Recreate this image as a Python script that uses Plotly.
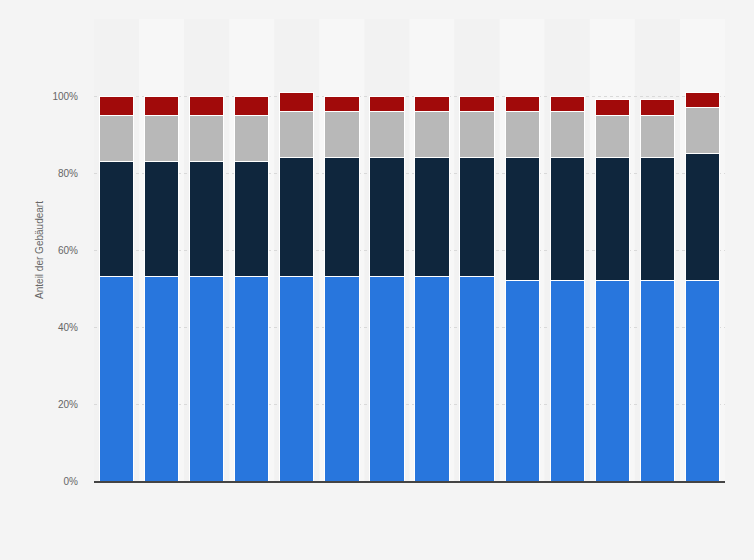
import plotly.graph_objects as go

categories = [str(y) for y in range(2006, 2020)]
blue = [53, 53, 53, 53, 53, 53, 53, 53, 53, 52, 52, 52, 52, 52]
navy = [30, 30, 30, 30, 31, 31, 31, 31, 31, 32, 32, 32, 32, 33]
gray = [12, 12, 12, 12, 12, 12, 12, 12, 12, 12, 12, 11, 11, 12]
red = [5, 5, 5, 5, 5, 4, 4, 4, 4, 4, 4, 4, 4, 4]

series = [
    ("Serie 1", blue, "#2876dd"),
    ("Serie 2", navy, "#0f263d"),
    ("Serie 3", gray, "#b8b8b8"),
    ("Serie 4", red, "#a10a0a"),
]

fig = go.Figure()
for name, vals, col in series:
    fig.add_trace(go.Bar(
        x=categories, y=vals, name=name,
        marker=dict(color=col, line=dict(color="#ffffff", width=1)),
        width=0.76,
    ))

shapes = []
for i in range(len(categories)):
    shapes.append(dict(
        type="rect", xref="x", yref="paper",
        x0=i - 0.5, x1=i + 0.5, y0=0, y1=1,
        fillcolor="#f7f7f7" if i % 2 == 1 else "#f2f2f2",
        line=dict(width=0), layer="below",
    ))

fig.update_layout(
    barmode="stack",
    width=754, height=560,
    paper_bgcolor="#f4f4f4", plot_bgcolor="#f4f4f4",
    margin=dict(l=94, r=29, t=19, b=79),
    showlegend=False,
    shapes=shapes,
    font=dict(family="Liberation Sans, Arial, sans-serif", size=10, color="#666666"),
    xaxis=dict(
        showticklabels=False, showgrid=False, ticks="",
        showline=True, linecolor="#444444", linewidth=2,
        range=[-0.5, len(categories) - 0.5],
    ),
    yaxis=dict(
        range=[0, 120],
        tickvals=[0, 20, 40, 60, 80, 100, 120],
        ticktext=["0%", "20%", "40%", "60%", "80%", "100%", ""],
        showgrid=True, gridcolor="#d9d9d9", griddash="dot", gridwidth=1,
        zeroline=False, ticks="", ticklabelstandoff=15,
        title=dict(text="Anteil der Gebäudeart", font=dict(size=10, color="#666666"), standoff=6),
    ),
)

fig.write_html(
    "out.html",
    config={"displayModeBar": False},
    post_script="document.body.style.margin='0';document.body.style.background='#f4f4f4';",
)
